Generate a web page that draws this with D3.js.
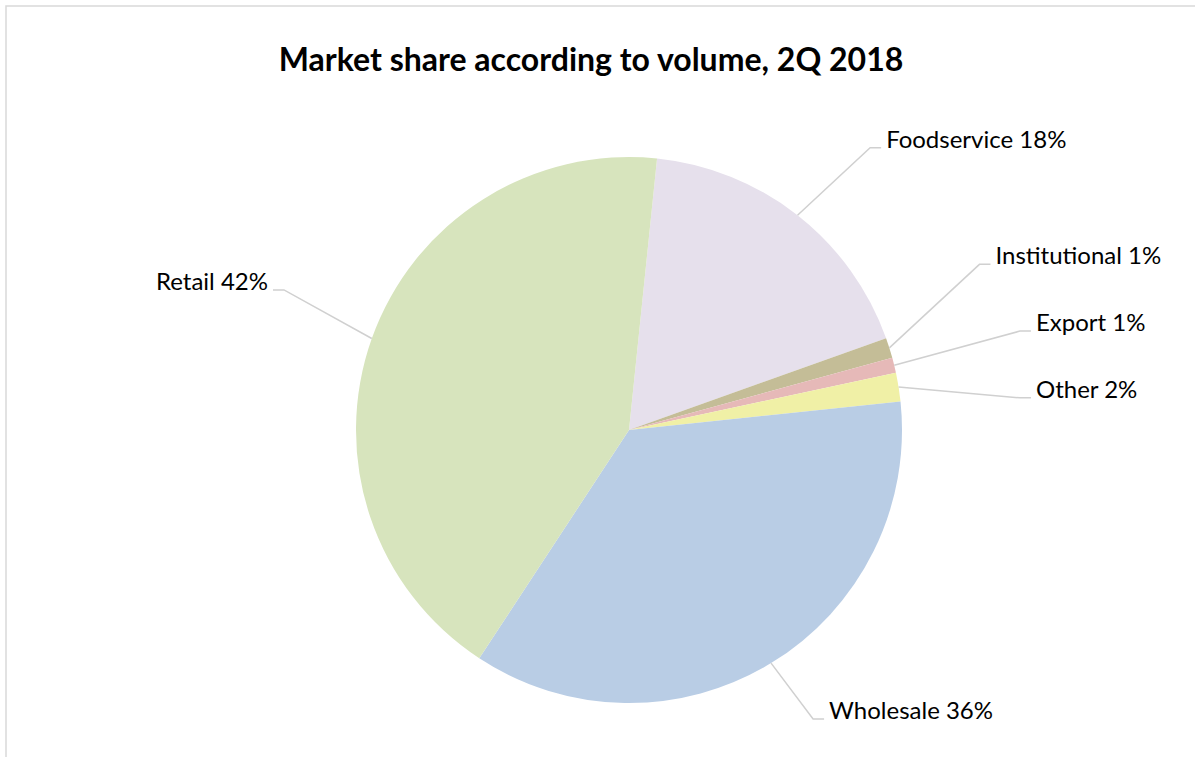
<!DOCTYPE html>
<html lang="en">
<head>
  <meta charset="UTF-8">
  <title>Market share according to volume, 2Q 2018</title>
  <script src="https://d3js.org/d3.v7.min.js"></script>
  <style>
    html, body {
      margin: 0;
      padding: 0;
      background: #fff;
    }
    svg {
      display: block;
      font-family: Lato, "Open Sans", sans-serif;
    }
    .title {
      font-size: 32px;
      font-weight: bold;
      fill: #000;
    }
    .label {
      font-size: 24px;
      fill: #000;
    }
    .leader {
      fill: none;
      stroke: #d0d0d0;
      stroke-width: 1.5;
    }
  </style>
</head>
<body>
  <svg width="1195" height="757"></svg>

  <script>
    // data, in the order the slices run clockwise
    const categories = ['Foodservice', 'Institutional', 'Export', 'Other', 'Wholesale', 'Retail'];
    const shares = [17.9, 1.2, 0.9, 1.7, 35.9, 42.4];
    const colors = ['#e6e0ec', '#c4bd97', '#e6b9b8', '#f0f0a6', '#b9cde5', '#d7e4bd'];

    // where each label's leader line bends (angle in degrees, radius as a multiple of the pie radius)
    const labelAngles = [40.5, 64.7, 75.8, 85.3, 147.5, 292.1];
    const labelRadii = [1.36, 1.42, 1.477, 1.437, 1.255, 1.364];

    const svg = d3.select('svg');
    const cx = 629, cy = 430, radius = 273;
    const firstSliceAngle = 5.9 * Math.PI / 180;

    // chart frame
    svg.append('rect')
      .attr('x', 6).attr('y', 6)
      .attr('width', 1300).attr('height', 900)
      .attr('fill', 'none')
      .attr('stroke', '#d9d9d9')
      .attr('stroke-width', 1.5);

    svg.append('text')
      .attr('class', 'title')
      .attr('x', 591)
      .attr('y', 71)
      .attr('text-anchor', 'middle')
      .text('Market share according to volume, 2Q 2018');

    const data = categories.map((c, i) => ({ name: c, value: shares[i], color: colors[i], i }));

    const pie = d3.pie()
      .sort(null)
      .value(d => d.value)
      .startAngle(firstSliceAngle)
      .endAngle(firstSliceAngle + 2 * Math.PI);

    const arc = d3.arc().innerRadius(0).outerRadius(radius);

    const g = svg.append('g').attr('transform', `translate(${cx},${cy})`);
    const arcs = pie(data);

    g.selectAll('path.slice')
      .data(arcs)
      .enter()
      .append('path')
      .attr('class', 'slice')
      .attr('d', arc)
      .attr('fill', d => d.data.color);

    const polar = (angle, r) => [r * Math.sin(angle), -r * Math.cos(angle)];

    arcs.forEach(d => {
      const mid = (d.startAngle + d.endAngle) / 2;
      const start = polar(mid, radius);
      const elbow = polar(labelAngles[d.data.i] * Math.PI / 180, radius * labelRadii[d.data.i]);
      const right = elbow[0] > 0;
      const end = [elbow[0] + (right ? 11 : -11), elbow[1]];

      g.append('polyline')
        .attr('class', 'leader')
        .attr('points', [start, elbow, end].map(p => p.join(',')).join(' '));

      g.append('text')
        .attr('class', 'label')
        .attr('x', end[0] + (right ? 5 : -5))
        .attr('y', end[1])
        .attr('text-anchor', right ? 'start' : 'end')
        .text(`${d.data.name} ${Math.round(d.data.value)}%`);
    });
  </script>
</body>
</html>
